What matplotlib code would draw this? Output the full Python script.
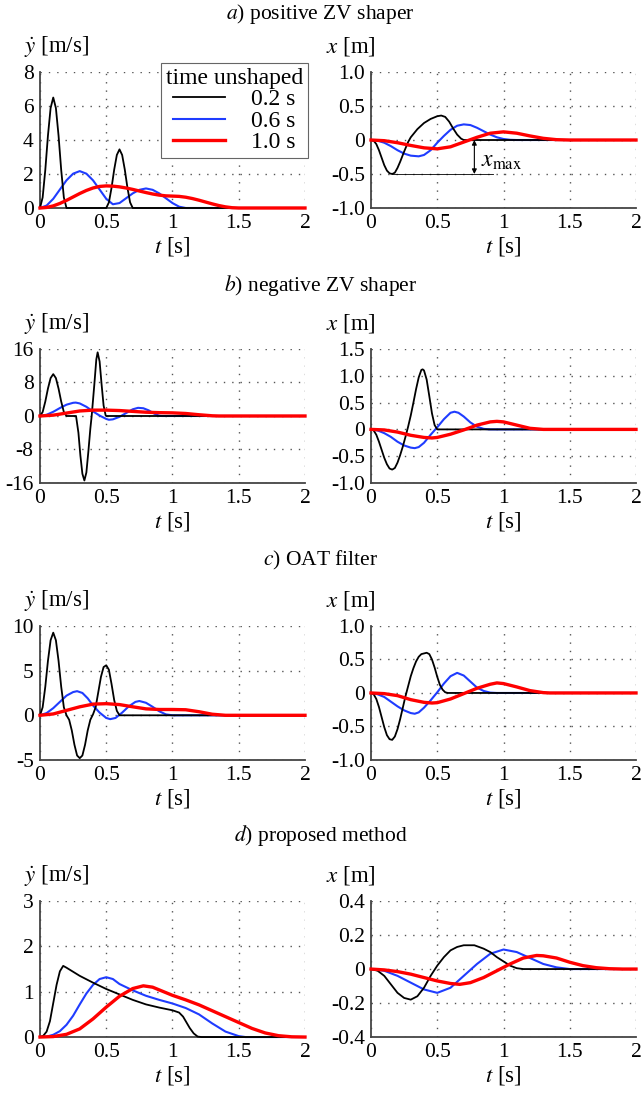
import matplotlib
matplotlib.use('Agg')
import matplotlib.pyplot as plt

plt.rcParams['font.family'] = ['Liberation Serif', 'DejaVu Serif']
plt.rcParams['mathtext.fontset'] = 'stix'
plt.rcParams['axes.unicode_minus'] = False
plt.rcParams['font.size'] = 15

# ---------------- data ----------------
titles = [r"$a$) positive ZV shaper", r"$b$) negative ZV shaper",
          r"$c$) OAT filter", r"$d$) proposed method"]
legend_labels = ["0.2 s", "0.6 s", "1.0 s"]

x_ticks = [0, 0.5, 1, 1.5, 2]
x_ticklabels = ["0", "0.5", "1", "1.5", "2"]

# a) positive ZV shaper - velocity
a_vel_t_k = [0, 0.02, 0.04, 0.06, 0.08, 0.1, 0.12, 0.14, 0.16, 0.18, 0.2,
             0.5, 0.52, 0.54, 0.56, 0.58, 0.6, 0.62, 0.64, 0.66, 0.68, 0.7, 2]
a_vel_k = [0, 0.62, 2.24, 4.26, 5.88, 6.5, 5.88, 4.26, 2.24, 0.62, 0,
           0, 0.33, 1.19, 2.26, 3.12, 3.45, 3.12, 2.26, 1.19, 0.33, 0, 0]
a_vel_t_b = [0, 0.05, 0.1, 0.15, 0.2, 0.25, 0.3, 0.35, 0.4, 0.45, 0.5, 0.55, 0.6,
             0.65, 0.7, 0.75, 0.8, 0.85, 0.9, 0.95, 1.0, 1.05, 1.1, 2]
a_vel_b = [0, 0.145, 0.54, 1.085, 1.63, 2.02, 2.17, 2.02, 1.63, 1.085, 0.54, 0.22, 0.29,
           0.575, 0.86, 1.07, 1.15, 1.07, 0.86, 0.575, 0.29, 0.077, 0, 0]
a_vel_t_r = [0, 0.05, 0.1, 0.15, 0.2, 0.25, 0.3, 0.35, 0.4, 0.45, 0.5, 0.55, 0.6, 0.65,
             0.7, 0.75, 0.8, 0.85, 0.9, 0.95, 1.0, 1.05, 1.1, 1.15, 1.2, 1.25, 1.3,
             1.35, 1.4, 1.45, 1.5, 2]
a_vel_r = [0, 0.032, 0.124, 0.268, 0.449, 0.65, 0.852, 1.032, 1.177, 1.269, 1.3, 1.286,
           1.244, 1.176, 1.094, 1.0, 0.908, 0.824, 0.758, 0.715, 0.7, 0.683, 0.634,
           0.556, 0.459, 0.35, 0.242, 0.144, 0.067, 0.017, 0, 0]

# a) positive ZV shaper - residual vibration
a_pos_t_k = [0, 0.02, 0.04, 0.06, 0.08, 0.1, 0.12, 0.14, 0.16, 0.18, 0.2, 0.22, 0.25,
             0.28, 0.3, 0.35, 0.4, 0.45, 0.5, 0.53, 0.56, 0.59, 0.62, 0.65, 0.68, 0.7, 2]
a_pos_k = [0, -0.01, -0.06, -0.15, -0.26, -0.37, -0.45, -0.49, -0.5, -0.48, -0.41, -0.32,
           -0.17, -0.03, 0.04, 0.16, 0.25, 0.31, 0.35, 0.36, 0.34, 0.27, 0.17, 0.08, 0.02, 0, 0]
a_pos_t_b = [0, 0.05, 0.1, 0.15, 0.2, 0.25, 0.3, 0.36, 0.4, 0.45, 0.5, 0.55, 0.6, 0.65,
             0.7, 0.75, 0.8, 0.85, 0.9, 0.95, 1.0, 1.05, 1.1, 2]
a_pos_b = [0, -0.01, -0.04, -0.09, -0.15, -0.2, -0.23, -0.24, -0.22, -0.15, -0.04, 0.06,
           0.15, 0.21, 0.23, 0.22, 0.18, 0.13, 0.08, 0.04, 0.015, 0.003, 0, 0]
a_pos_t_r = [0, 0.1, 0.2, 0.3, 0.4, 0.5, 0.6, 0.7, 0.8, 0.9, 1.0, 1.1, 1.2, 1.3, 1.4, 1.5, 2]
a_pos_r = [0, -0.01, -0.04, -0.08, -0.115, -0.13, -0.1, -0.03, 0.04, 0.1, 0.12, 0.1,
           0.06, 0.025, 0.005, 0, 0]

# b) negative ZV shaper - velocity
b_vel_t_k = [0, 0.02, 0.04, 0.06, 0.08, 0.1, 0.12, 0.14, 0.16, 0.18, 0.2, 0.272, 0.29,
             0.305, 0.32, 0.335, 0.35, 0.365, 0.38, 0.39, 0.41, 0.425, 0.435, 0.45,
             0.465, 0.48, 0.495, 0.5, 2]
b_vel_k = [0, 0.95, 3.45, 6.55, 9.05, 10, 9.05, 6.55, 3.45, 0.95, 0, 0, -4, -9.5, -13.8,
           -15.4, -13.5, -8.5, -3, 0, 7.5, 13.5, 15.2, 13, 7.5, 2.5, 0.2, 0, 0]
b_vel_t_b = [0, 0.05, 0.1, 0.15, 0.2, 0.25, 0.27, 0.3, 0.35, 0.4, 0.45, 0.5, 0.52, 0.55,
             0.6, 0.65, 0.7, 0.74, 0.78, 0.82, 0.86, 0.9, 0.92, 2]
b_vel_b = [0, 0.3, 1.0, 1.9, 2.7, 3.15, 3.2, 3.0, 2.2, 1.1, 0.1, -0.7, -0.9, -0.8, -0.2,
           0.7, 1.6, 1.95, 1.85, 1.35, 0.6, 0.05, 0, 0]
b_vel_t_r = [0, 0.1, 0.2, 0.3, 0.4, 0.5, 0.6, 0.7, 0.8, 0.9, 1.0, 1.1, 1.2, 1.3, 1.35, 2]
b_vel_r = [0, 0.2, 0.7, 1.2, 1.4, 1.4, 1.3, 1.1, 0.9, 0.8, 0.75, 0.6, 0.3, 0.05, 0, 0]

# b) negative ZV shaper - residual vibration
b_pos_t_k = [0, 0.02, 0.04, 0.06, 0.08, 0.1, 0.12, 0.14, 0.16, 0.18, 0.2, 0.22, 0.24,
             0.26, 0.28, 0.3, 0.32, 0.34, 0.36, 0.38, 0.39, 0.4, 0.42, 0.44, 0.46, 0.48,
             0.5, 2]
b_pos_k = [0, -0.02, -0.1, -0.23, -0.38, -0.53, -0.65, -0.73, -0.75, -0.72, -0.62, -0.48,
           -0.32, -0.14, 0.05, 0.26, 0.5, 0.75, 0.97, 1.11, 1.12, 1.1, 0.93, 0.62, 0.3,
           0.08, 0, 0]
b_pos_t_b = [0, 0.05, 0.1, 0.15, 0.2, 0.25, 0.3, 0.33, 0.36, 0.4, 0.45, 0.5, 0.55, 0.6,
             0.63, 0.66, 0.7, 0.75, 0.8, 0.85, 0.9, 2]
b_pos_b = [0, -0.02, -0.07, -0.14, -0.23, -0.3, -0.34, -0.35, -0.33, -0.25, -0.1, 0.04,
           0.19, 0.31, 0.33, 0.31, 0.24, 0.13, 0.05, 0.01, 0, 0]
b_pos_t_r = [0, 0.1, 0.2, 0.3, 0.4, 0.46, 0.5, 0.6, 0.7, 0.8, 0.9, 0.95, 1.0, 1.1, 1.2,
             1.3, 2]
b_pos_r = [0, -0.01, -0.05, -0.11, -0.15, -0.16, -0.15, -0.09, -0.01, 0.08, 0.14, 0.15,
           0.14, 0.08, 0.02, 0, 0]

# c) OAT filter - velocity
c_vel_t_k = [0, 0.02, 0.04, 0.06, 0.08, 0.1, 0.12, 0.14, 0.16, 0.18, 0.2, 0.22, 0.24,
             0.26, 0.28, 0.3, 0.32, 0.34, 0.36, 0.38, 0.4, 0.42, 0.44, 0.46, 0.48, 0.5,
             0.52, 0.54, 0.56, 0.58, 0.6, 2]
c_vel_k = [0, 0.9, 3.2, 6.1, 8.4, 9.25, 8.4, 6.1, 3.2, 0.9, 0, -0.5, -1.7, -3.3, -4.5,
           -4.8, -4.5, -3.3, -1.7, -0.5, 0.1, 0.9, 2.6, 4.3, 5.4, 5.6, 5.1, 3.5, 1.7,
           0.5, 0, 0]
c_vel_t_b = [0, 0.05, 0.1, 0.15, 0.2, 0.25, 0.28, 0.32, 0.36, 0.4, 0.45, 0.5, 0.53,
             0.57, 0.62, 0.67, 0.72, 0.75, 0.8, 0.85, 0.9, 0.95, 1.0, 2]
c_vel_b = [0, 0.25, 0.8, 1.5, 2.2, 2.6, 2.7, 2.5, 1.9, 1.1, 0.3, -0.3, -0.43, -0.3, 0.3,
           1.0, 1.5, 1.6, 1.4, 0.95, 0.45, 0.1, 0, 0]
c_vel_t_r = [0, 0.1, 0.2, 0.3, 0.4, 0.5, 0.6, 0.7, 0.8, 0.9, 1.0, 1.1, 1.2, 1.3, 1.4, 2]
c_vel_r = [0, 0.15, 0.55, 0.95, 1.25, 1.3, 1.2, 0.95, 0.72, 0.65, 0.65, 0.62, 0.4, 0.12,
           0, 0]

# c) OAT filter - residual vibration
c_pos_t_k = [0, 0.02, 0.04, 0.06, 0.08, 0.1, 0.12, 0.14, 0.16, 0.18, 0.2, 0.22, 0.24,
             0.26, 0.28, 0.3, 0.32, 0.34, 0.36, 0.38, 0.42, 0.44, 0.46, 0.48, 0.5, 0.52,
             0.54, 0.56, 0.58, 2]
c_pos_k = [0, -0.02, -0.09, -0.21, -0.36, -0.51, -0.63, -0.69, -0.7, -0.65, -0.54, -0.39,
           -0.22, -0.05, 0.1, 0.25, 0.37, 0.47, 0.54, 0.58, 0.6, 0.58, 0.5, 0.38, 0.24,
           0.12, 0.05, 0.01, 0, 0]
c_pos_t_b = [0, 0.05, 0.1, 0.15, 0.2, 0.25, 0.3, 0.33, 0.36, 0.4, 0.45, 0.5, 0.55, 0.6,
             0.65, 0.7, 0.75, 0.8, 0.85, 0.9, 0.95, 2]
c_pos_b = [0, -0.02, -0.06, -0.13, -0.2, -0.26, -0.3, -0.31, -0.29, -0.22, -0.11, 0.01,
           0.14, 0.25, 0.3, 0.26, 0.17, 0.08, 0.03, 0.005, 0, 0]
c_pos_t_r = [0, 0.1, 0.2, 0.3, 0.4, 0.46, 0.5, 0.6, 0.7, 0.8, 0.9, 0.95, 1.0, 1.1, 1.2,
             1.3, 1.35, 2]
c_pos_r = [0, -0.01, -0.04, -0.1, -0.14, -0.15, -0.145, -0.09, -0.01, 0.07, 0.13, 0.15,
           0.14, 0.09, 0.035, 0.005, 0, 0]

# d) proposed method - velocity
d_vel_t_k = [0, 0.025, 0.05, 0.075, 0.1, 0.125, 0.15, 0.175, 0.2, 0.3, 0.4, 0.5, 0.6,
             0.7, 0.8, 0.9, 1.0, 1.05, 1.08, 1.1, 1.13, 1.16, 1.19, 1.22, 2]
d_vel_k = [0, 0.03, 0.12, 0.35, 0.75, 1.15, 1.45, 1.57, 1.53, 1.35, 1.2, 1.06, 0.94,
           0.82, 0.72, 0.65, 0.59, 0.54, 0.45, 0.35, 0.2, 0.08, 0.01, 0, 0]
d_vel_t_b = [0, 0.05, 0.1, 0.15, 0.2, 0.25, 0.3, 0.35, 0.4, 0.45, 0.5, 0.55, 0.6, 0.7,
             0.8, 0.9, 1.0, 1.1, 1.2, 1.3, 1.4, 1.5, 1.55, 2]
d_vel_b = [0, 0.01, 0.05, 0.13, 0.27, 0.47, 0.72, 0.96, 1.15, 1.28, 1.32, 1.28, 1.17,
           1.03, 0.91, 0.82, 0.74, 0.64, 0.5, 0.3, 0.12, 0.02, 0, 0]
d_vel_t_r = [0, 0.1, 0.2, 0.3, 0.4, 0.5, 0.6, 0.7, 0.78, 0.85, 0.9, 1.0, 1.1, 1.2, 1.3,
             1.4, 1.5, 1.6, 1.7, 1.8, 1.9, 2]
d_vel_r = [0, 0.01, 0.06, 0.18, 0.4, 0.66, 0.9, 1.07, 1.13, 1.1, 1.04, 0.92, 0.82, 0.71,
           0.58, 0.45, 0.32, 0.19, 0.09, 0.03, 0.005, 0]

# d) proposed method - residual vibration
d_pos_t_k = [0, 0.05, 0.1, 0.15, 0.2, 0.25, 0.3, 0.35, 0.4, 0.45, 0.5, 0.55, 0.6, 0.65,
             0.7, 0.78, 0.85, 0.9, 0.95, 1.0, 1.05, 1.1, 1.15, 2]
d_pos_k = [0, -0.01, -0.04, -0.09, -0.14, -0.17, -0.18, -0.16, -0.11, -0.04, 0.02, 0.07,
           0.11, 0.13, 0.14, 0.14, 0.12, 0.1, 0.07, 0.045, 0.02, 0.005, 0, 0]
d_pos_t_b = [0, 0.1, 0.2, 0.3, 0.4, 0.5, 0.6, 0.7, 0.8, 0.9, 1.0, 1.1, 1.2, 1.3, 1.4, 1.5, 2]
d_pos_b = [0, -0.01, -0.04, -0.08, -0.12, -0.14, -0.11, -0.04, 0.03, 0.09, 0.115, 0.1,
           0.065, 0.03, 0.01, 0, 0]
d_pos_t_r = [0, 0.1, 0.2, 0.3, 0.4, 0.5, 0.6, 0.67, 0.75, 0.85, 0.95, 1.05, 1.15, 1.25,
             1.3, 1.4, 1.5, 1.6, 1.7, 1.8, 1.9, 2]
d_pos_r = [0, -0.005, -0.015, -0.03, -0.05, -0.07, -0.085, -0.09, -0.08, -0.05, -0.01,
           0.03, 0.065, 0.08, 0.078, 0.065, 0.04, 0.02, 0.008, 0.002, 0, 0]

# axis ranges / ticks per panel
vel_yticks = [[0, 2, 4, 6, 8], [-16, -8, 0, 8, 16], [-5, 0, 5, 10], [0, 1, 2, 3]]
vel_ylabels = [["0", "2", "4", "6", "8"], ["-16", "-8", "0", "8", "16"],
               ["-5", "0", "5", "10"], ["0", "1", "2", "3"]]
pos_yticks = [[-1, -0.5, 0, 0.5, 1], [-1, -0.5, 0, 0.5, 1, 1.5],
              [-1, -0.5, 0, 0.5, 1], [-0.4, -0.2, 0, 0.2, 0.4]]
pos_ylabels = [["-1.0", "-0.5", "0", "0.5", "1.0"],
               ["-1.0", "-0.5", "0", "0.5", "1.0", "1.5"],
               ["-1.0", "-0.5", "0", "0.5", "1.0"],
               ["-0.4", "-0.2", "0", "0.2", "0.4"]]

vel_data = [
    [(a_vel_t_k, a_vel_k), (a_vel_t_b, a_vel_b), (a_vel_t_r, a_vel_r)],
    [(b_vel_t_k, b_vel_k), (b_vel_t_b, b_vel_b), (b_vel_t_r, b_vel_r)],
    [(c_vel_t_k, c_vel_k), (c_vel_t_b, c_vel_b), (c_vel_t_r, c_vel_r)],
    [(d_vel_t_k, d_vel_k), (d_vel_t_b, d_vel_b), (d_vel_t_r, d_vel_r)],
]
pos_data = [
    [(a_pos_t_k, a_pos_k), (a_pos_t_b, a_pos_b), (a_pos_t_r, a_pos_r)],
    [(b_pos_t_k, b_pos_k), (b_pos_t_b, b_pos_b), (b_pos_t_r, b_pos_r)],
    [(c_pos_t_k, c_pos_k), (c_pos_t_b, c_pos_b), (c_pos_t_r, c_pos_r)],
    [(d_pos_t_k, d_pos_k), (d_pos_t_b, d_pos_b), (d_pos_t_r, d_pos_r)],
]

# ---------------- styling ----------------
colors = ['black', '#1f3cff', '#ff0000']
widths = [1.3, 1.5, 2.4]
zorders = [3, 2, 4]

row_bottom = [0.8097, 0.5581, 0.3047, 0.0512]
row_height = [0.1244, 0.1226, 0.1226, 0.1244]
title_y = [0.987, 0.739, 0.487, 0.236]


def style_axis(ax, yticks, ylabels, ylabel, label_x):
    ax.set_xlim(0, 2)
    ax.set_ylim(yticks[0], yticks[-1])
    ax.set_xticks(x_ticks)
    ax.set_xticklabels(x_ticklabels)
    ax.set_yticks(yticks)
    ax.set_yticklabels(ylabels)
    ax.tick_params(length=0, pad=4.5, labelsize=15.5)
    for s in ['top', 'right']:
        ax.spines[s].set_visible(False)
    for s in ['left', 'bottom']:
        ax.spines[s].set_color('#444444')
        ax.spines[s].set_linewidth(1.3)
    ax.grid(True, color='#555555', linestyle=(0, (1, 5)), linewidth=1.0)
    ax.set_axisbelow(True)
    ax.set_xlabel(r"$t$ [s]", fontsize=16.5, labelpad=1)
    ax.text(label_x, 1.19, ylabel, transform=ax.transAxes, fontsize=16.5,
            ha='left', va='center')


fig = plt.figure(figsize=(6.41, 10.93), dpi=100)

for i in range(4):
    axl = fig.add_axes([0.0624, row_bottom[i], 0.4134, row_height[i]])
    axr = fig.add_axes([0.5788, row_bottom[i], 0.4134, row_height[i]])
    lines = []
    for (t, v), c, w, z, lab in zip(vel_data[i], colors, widths, zorders, legend_labels):
        ln, = axl.plot(t, v, color=c, lw=w, zorder=z, label=lab, clip_on=False)
        lines.append(ln)
    for (t, v), c, w, z in zip(pos_data[i], colors, widths, zorders):
        axr.plot(t, v, color=c, lw=w, zorder=z, clip_on=False)
    style_axis(axl, vel_yticks[i], vel_ylabels[i], r"$\dot{y}$ [m/s]", -0.06)
    style_axis(axr, pos_yticks[i], pos_ylabels[i], r"$x$ [m]", -0.17)
    fig.text(0.5, title_y[i], titles[i], ha='center', va='center', fontsize=15.5)

    if i == 0:
        leg = axl.legend(handles=lines, title="time unshaped", loc='upper right',
                         bbox_to_anchor=(1.01, 1.065), borderaxespad=0,
                         fancybox=False, edgecolor='#666666', framealpha=1,
                         fontsize=17, title_fontsize=17, handlelength=2.2,
                         handletextpad=1.1, labelspacing=0.0, borderpad=0.2)
        leg.get_frame().set_linewidth(0.8)
        leg.set_zorder(10)

        # x_max annotation on the residual vibration panel
        k_min = min(a_pos_k)
        t_min = a_pos_t_k[a_pos_k.index(k_min)]
        arrow_t = 0.78
        axr.plot([t_min, 0.92], [k_min, k_min], color='black', lw=0.6, zorder=5)
        axr.annotate('', xy=(arrow_t, k_min), xytext=(arrow_t, 0),
                     arrowprops=dict(arrowstyle='<|-|>', color='black', lw=0.8,
                                     mutation_scale=7, shrinkA=0, shrinkB=0),
                     zorder=5)
        axr.text(arrow_t + 0.05, k_min * 0.62, r"$x_{\mathrm{max}}$", fontsize=17,
                 ha='left', va='center')

fig.savefig('out.png', dpi=100)
